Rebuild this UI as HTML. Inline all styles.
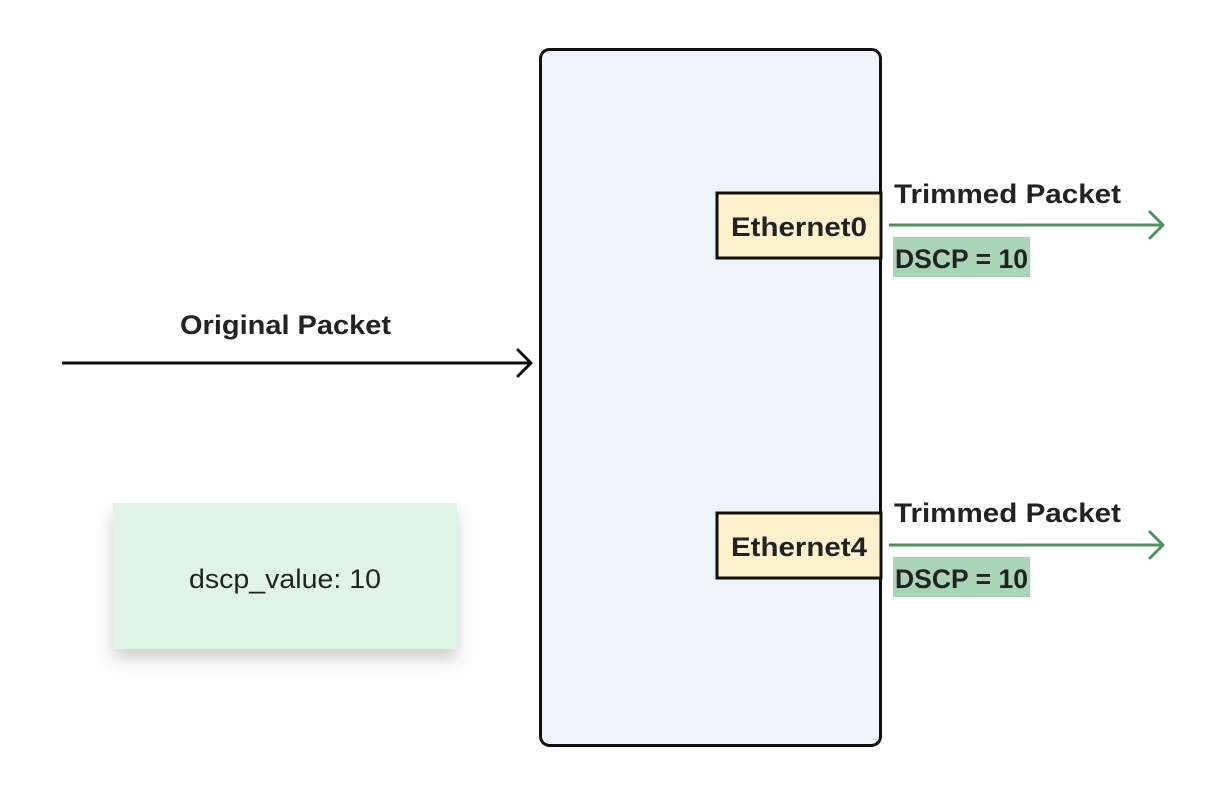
<!DOCTYPE html>
<html><head><meta charset="utf-8"><style>
html,body{margin:0;padding:0;background:#fff;}
svg{display:block;font-family:"Liberation Sans",sans-serif;}
</style></head><body>
<svg width="1230" height="796" viewBox="0 0 1230 796" xmlns="http://www.w3.org/2000/svg">
<defs>
<filter id="sh" x="-20%" y="-20%" width="140%" height="160%">
<feDropShadow dx="0" dy="10" stdDeviation="8" flood-color="#000" flood-opacity="0.18"/>
</filter>
</defs>
<rect x="113" y="503" width="344" height="146" fill="#dff5e6" filter="url(#sh)"/>
<text x="189" y="588" font-size="27" fill="#222" textLength="192" lengthAdjust="spacingAndGlyphs">dscp_value: 10</text>

<rect x="540.5" y="49.5" width="340" height="696" rx="9" fill="#eef3fc" stroke="#111" stroke-width="3"/>

<rect x="717" y="193" width="164" height="65" fill="#fff2cc" stroke="#111" stroke-width="3"/>
<text x="731" y="236" font-size="27" font-weight="bold" fill="#222" textLength="136" lengthAdjust="spacingAndGlyphs">Ethernet0</text>
<rect x="717" y="513" width="164" height="65" fill="#fff2cc" stroke="#111" stroke-width="3"/>
<text x="731" y="556" font-size="27" font-weight="bold" fill="#222" textLength="136" lengthAdjust="spacingAndGlyphs">Ethernet4</text>

<text x="180" y="334" font-size="27" font-weight="bold" fill="#222" textLength="211" lengthAdjust="spacingAndGlyphs">Original Packet</text>
<line x1="62" y1="363" x2="530" y2="363" stroke="#111" stroke-width="3"/>
<polyline points="518,350 531,363 518,376" fill="none" stroke="#111" stroke-width="3" stroke-linecap="round" stroke-linejoin="round"/>

<g>
<text x="894" y="203" font-size="27" font-weight="bold" fill="#222" textLength="227" lengthAdjust="spacingAndGlyphs">Trimmed Packet</text>
<line x1="889" y1="225" x2="1162" y2="225" stroke="#4a9460" stroke-width="3"/>
<polyline points="1150,212 1163,225 1150,238" fill="none" stroke="#4a9460" stroke-width="3" stroke-linecap="round" stroke-linejoin="round"/>
<rect x="893" y="237" width="137" height="40" fill="#a9d5b7"/>
<text x="895" y="268" font-size="27" font-weight="bold" fill="#222" textLength="133" lengthAdjust="spacingAndGlyphs">DSCP = 10</text>
</g>
<g>
<text x="894" y="522" font-size="27" font-weight="bold" fill="#222" textLength="227" lengthAdjust="spacingAndGlyphs">Trimmed Packet</text>
<line x1="889" y1="545" x2="1162" y2="545" stroke="#4a9460" stroke-width="3"/>
<polyline points="1150,532 1163,545 1150,558" fill="none" stroke="#4a9460" stroke-width="3" stroke-linecap="round" stroke-linejoin="round"/>
<rect x="893" y="557" width="137" height="40" fill="#a9d5b7"/>
<text x="895" y="588" font-size="27" font-weight="bold" fill="#222" textLength="133" lengthAdjust="spacingAndGlyphs">DSCP = 10</text>
</g>
</svg>
</body></html>
